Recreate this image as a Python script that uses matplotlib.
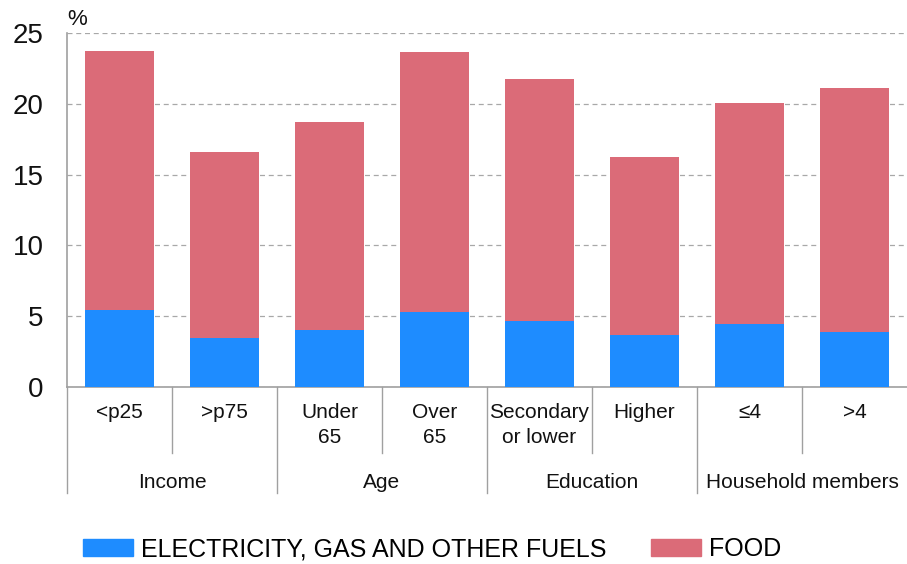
import matplotlib
matplotlib.use("Agg")
import numpy as np
from matplotlib import pyplot as plt
from matplotlib.patches import Patch

plt.rcParams['font.family'] = ['Liberation Sans', 'DejaVu Sans']

categories = ["<p25", ">p75", "Under\n65", "Over\n65", "Secondary\nor lower", "Higher", "≤4", ">4"]
groups = ["Income", "Age", "Education", "Household members"]
energy = [5.43, 3.47, 4.03, 5.26, 4.67, 3.63, 4.43, 3.89]
food = [18.32, 13.13, 14.70, 18.44, 17.07, 12.62, 15.64, 17.22]

scheme = {
    "energy": "#1E8CFF",
    "food": "#DB6B78",
    "grid": "#A8A8A8",
    "line": "#A0A0A0",
    "text": "#111111",
}

fig = plt.figure(figsize=(9.07, 5.64), dpi=100)
ax = fig.add_axes([67 / 907, 1 - 386.7 / 564, 840 / 907, 353.4 / 564])

x = np.arange(len(categories))
ax.bar(x, energy, width=0.66, color=scheme['energy'], edgecolor='none', zorder=3)
ax.bar(x, food, bottom=energy, width=0.66, color=scheme['food'], edgecolor='none', zorder=3)

ax.set_xlim(-0.5, len(categories) - 0.5)
ax.set_ylim(0, 25)
ax.set_yticks([0, 5, 10, 15, 20, 25])
ax.tick_params(axis='y', length=0, pad=17, labelsize=20, colors=scheme['text'])
ax.set_xticks([])
ax.yaxis.grid(True, linestyle=(0, (4, 3)), color=scheme['grid'], linewidth=0.9, zorder=0)

for name, spine in ax.spines.items():
    if name in ('top', 'right'):
        spine.set_visible(False)
    else:
        spine.set_color(scheme['line'])
        spine.set_linewidth(1.2)

trans = ax.get_xaxis_transform()
# category labels
for i, lab in enumerate(categories):
    ax.text(i, -0.045, lab, transform=trans, ha='center', va='top', fontsize=15,
            linespacing=1.4, color=scheme['text'])

# separators between bars inside groups (short) and between groups (long)
for i in range(len(categories)):
    xs = i - 0.5
    if i % 2 == 0:
        ax.plot([xs, xs], [0, -0.301], transform=trans, color=scheme['line'], lw=1.0, clip_on=False)
    else:
        ax.plot([xs, xs], [0, -0.188], transform=trans, color=scheme['line'], lw=1.0, clip_on=False)

for g, name in enumerate(groups):
    ax.text(2 * g + 0.5, -0.27, name, transform=trans, ha='center', va='center', fontsize=15,
            color=scheme['text'])

ax.text(0.0, 1.008, "%", transform=ax.transAxes, ha='left', va='bottom', fontsize=16,
        color=scheme['text'])

handles = [Patch(color=scheme['energy']), Patch(color=scheme['food'])]
fig.legend(handles, ["ELECTRICITY, GAS AND OTHER FUELS", "FOOD"], loc='center',
           bbox_to_anchor=(432 / 907, 1 - 549 / 564), ncol=2, frameon=False, fontsize=18,
           handlelength=2.0, handleheight=0.7, handletextpad=0.3, columnspacing=1.8)

fig.savefig("out.png", dpi=100, facecolor='white')
